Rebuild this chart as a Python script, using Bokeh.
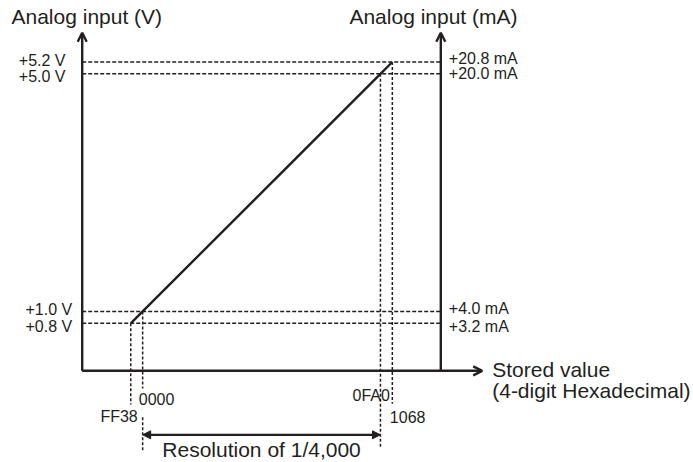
from bokeh.plotting import figure
from bokeh.models import Range1d, Arrow, OpenHead, NormalHead
from bokeh.core.properties import value
from bokeh.embed import file_html
from bokeh.resources import INLINE

# ---------------- data ----------------
hex_labels = ["FF38", "0000", "0FA0", "1068"]
stored_values = [-200, 0, 4000, 4200]          # decimal of the hex codes
volt_values = [0.8, 1.0, 5.0, 5.2]
volt_labels = ["+0.8 V", "+1.0 V", "+5.0 V", "+5.2 V"]
ma_values = [3.2, 4.0, 20.0, 20.8]
ma_labels = ["+3.2 mA", "+4.0 mA", "+20.0 mA", "+20.8 mA"]
resolution_text = "Resolution of 1/4,000"

# ---------------- layout ----------------
W, H = 693, 462
PX_PER_X = 0.059446      # pixels per stored-value unit
PX_PER_V = 59.39         # pixels per volt
X0_PX = 142.16           # canvas px of stored value 0
V3_PX = 192.15           # canvas py of 3 V
S_SHIFT = -6.0           # baseline correction, 16px texts
L_SHIFT = -8.0           # baseline correction, 21px texts

x_start = -X0_PX / PX_PER_X
x_end = (W - X0_PX) / PX_PER_X
y_end = 3 + V3_PX / PX_PER_V
y_start = 3 - (H - V3_PX) / PX_PER_V


def dx(px):
    return px / PX_PER_X


def dv(px):
    return px / PX_PER_V


def so(lst):
    return [v + S_SHIFT for v in lst]


INK = "#231f20"
FONT = value("Liberation Sans")
DASH_W = 1.5

LEFT_X = stored_values[0] - dx(130.27 - 81.7)
RIGHT_X = stored_values[-1] + dx(440.3 - 391.83)
AXIS_TOP = volt_values[-1] + dv(29.2)
XAXIS_END = RIGHT_X + dx(41.4)

p = figure(width=W, height=H, output_backend="svg", toolbar_location=None,
           x_range=Range1d(x_start, x_end), y_range=Range1d(y_start, y_end),
           x_axis_type=None, y_axis_type=None, min_border=0,
           outline_line_color=None, background_fill_color="white")
p.extra_y_ranges = {"ma": Range1d(y_start * 4, y_end * 4)}

# dashed horizontal reference lines
p.segment(x0=LEFT_X, x1=RIGHT_X, y0=volt_values, y1=volt_values,
          line_color=INK, line_width=DASH_W, line_dash="4 2")

# dashed vertical drop lines
drop_px = [33.7, 17.7, 78.0, 33.0]
p.segment(x0=stored_values, x1=stored_values, y0=volt_values,
          y1=[-dv(d) for d in drop_px],
          line_color=INK, line_width=DASH_W, line_dash="3 2")
# lower part of the 0000 line
p.segment(x0=[stored_values[1]], x1=[stored_values[1]],
          y0=[-dv(46.4)], y1=[-dv(79.7)],
          line_color=INK, line_width=DASH_W, line_dash="3 2")

# conversion line
p.line(x=stored_values, y=volt_values, line_color=INK, line_width=2.4)

# axes with open arrow heads
for (xs, ys, xe, ye) in [(LEFT_X, 0, LEFT_X, AXIS_TOP),
                         (RIGHT_X, 0, RIGHT_X, AXIS_TOP),
                         (LEFT_X, 0, XAXIS_END, 0)]:
    p.add_layout(Arrow(x_start=xs, y_start=ys, x_end=xe, y_end=ye,
                       line_color=INK, line_width=2.4,
                       end=OpenHead(size=9, line_color=INK, line_width=2.4)))

# resolution arrow
RES_Y = -dv(64.0)
p.add_layout(Arrow(x_start=stored_values[1], y_start=RES_Y,
                   x_end=stored_values[2], y_end=RES_Y,
                   line_color=INK, line_width=2.2,
                   start=NormalHead(size=8, fill_color=INK, line_color=INK, line_width=1),
                   end=NormalHead(size=8, fill_color=INK, line_color=INK, line_width=1)))

# voltage labels (left)
p.text(x=[LEFT_X] * 4, y=volt_values, text=volt_labels,
       x_offset=[-10, -10, -16.7, -16.7], y_offset=so([8.9, 4.1, 8.9, 4.2]),
       text_align="right", text_baseline="alphabetic",
       text_font=FONT, text_font_size="16px", text_color=INK)

# current labels (right)
p.text(x=[RIGHT_X] * 4, y=ma_values, text=ma_labels, y_range_name="ma",
       x_offset=8, y_offset=so([8.9, 3.4, 5.6, 2.8]),
       text_align="left", text_baseline="alphabetic",
       text_font=FONT, text_font_size="16px", text_color=INK)

# hex labels
p.text(x=[stored_values[0], stored_values[2]], y=[0, 0],
       text=[hex_labels[0], hex_labels[2]],
       x_offset=[7.0, 9.4], y_offset=so([52.0, 30.7]),
       text_align="right", text_baseline="alphabetic",
       text_font=FONT, text_font_size="16px", text_color=INK)
p.text(x=[stored_values[1], stored_values[3]], y=[0, 0],
       text=[hex_labels[1], hex_labels[3]],
       x_offset=[-3.9, -2.5], y_offset=so([33.7, 52.4]),
       text_align="left", text_baseline="alphabetic",
       text_font=FONT, text_font_size="16px", text_color=INK)

# resolution text
p.text(x=[(stored_values[1] + stored_values[2]) / 2], y=[RES_Y],
       text=[resolution_text], y_offset=22.7 + L_SHIFT,
       text_align="center", text_baseline="alphabetic",
       text_font=FONT, text_font_size="21px", text_color=INK)

# axis titles
p.text(x=[LEFT_X], y=[AXIS_TOP], text=["Analog input (V)"],
       x_offset=-70.7, y_offset=-8.3 + L_SHIFT,
       text_align="left", text_baseline="alphabetic",
       text_font=FONT, text_font_size="21px", text_color=INK)
p.text(x=[RIGHT_X], y=[AXIS_TOP], text=["Analog input (mA)"],
       x_offset=76.7, y_offset=-8.3 + L_SHIFT,
       text_align="right", text_baseline="alphabetic",
       text_font=FONT, text_font_size="21px", text_color=INK)
p.text(x=[XAXIS_END, XAXIS_END], y=[0, 0],
       text=["Stored value", "(4-digit Hexadecimal)"],
       x_offset=10, y_offset=[6.5 + L_SHIFT, 27.2 + L_SHIFT],
       text_align="left", text_baseline="alphabetic",
       text_font=FONT, text_font_size="21px", text_color=INK)

open("out.html", "w").write(file_html(p, INLINE))
